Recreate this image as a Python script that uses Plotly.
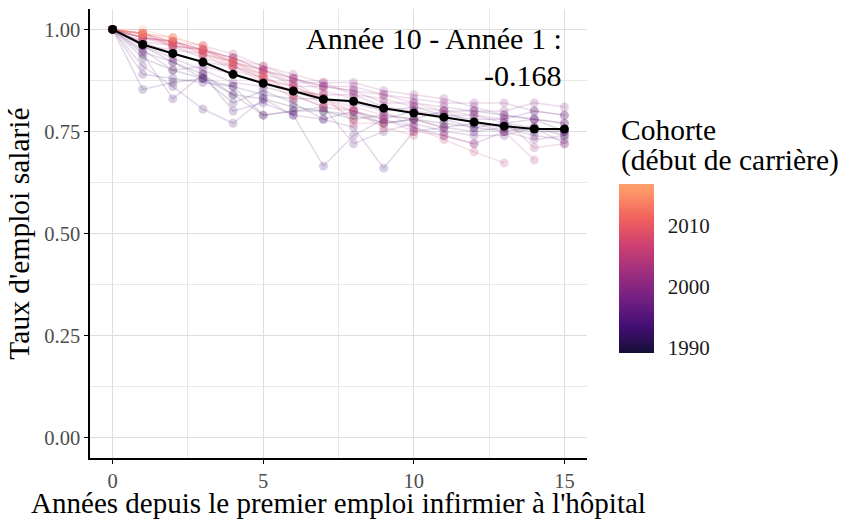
import plotly.graph_objects as go
from plotly.colors import sample_colorscale

# ---- data ----
years = list(range(16))
cohorts = list(range(1990, 2017))

r1990 = [1.00, 0.93, 0.90, 0.88, 0.86, 0.79, 0.80, 0.80, 0.79, 0.77, 0.78, 0.77, 0.76, 0.75, 0.76, 0.74]
r1991 = [1.00, 0.96, 0.92, 0.89, 0.84, 0.83, 0.81, 0.80, 0.78, 0.79, 0.78, 0.76, 0.77, 0.76, 0.75, 0.75]
r1992 = [1.00, 0.853, 0.87, 0.88, 0.82, 0.85, 0.82, 0.78, 0.80, 0.77, 0.78, 0.80, 0.80, 0.79, 0.78, 0.77]
r1993 = [1.00, 0.89, 0.88, 0.87, 0.86, 0.84, 0.83, 0.83, 0.82, 0.80, 0.81, 0.79, 0.78, 0.78, 0.80, 0.79]
r1994 = [1.00, 0.94, 0.83, 0.89, 0.80, 0.82, 0.79, 0.665, 0.74, 0.78, 0.80, 0.78, 0.76, 0.77, 0.78, 0.75]
r1995 = [1.00, 0.91, 0.86, 0.805, 0.77, 0.83, 0.79, 0.78, 0.76, 0.66, 0.75, 0.76, 0.75, 0.76, 0.74, 0.73]
r1996 = [1.00, 0.945, 0.92, 0.88, 0.84, 0.79, 0.80, 0.81, 0.72, 0.75, 0.77, 0.75, 0.74, 0.74, 0.76, 0.72]
r1997 = [1.00, 0.96, 0.93, 0.90, 0.87, 0.86, 0.84, 0.81, 0.80, 0.78, 0.76, 0.74, 0.72, 0.75, 0.73, 0.74]
r1998 = [1.00, 0.95, 0.90, 0.91, 0.89, 0.87, 0.85, 0.84, 0.84, 0.81, 0.80, 0.79, 0.79, 0.77, 0.76, 0.75]
r1999 = [1.00, 0.97, 0.94, 0.92, 0.91, 0.88, 0.86, 0.86, 0.85, 0.82, 0.82, 0.81, 0.80, 0.80, 0.82, 0.81]
r2000 = [1.00, 0.96, 0.95, 0.94, 0.92, 0.90, 0.88, 0.86, 0.86, 0.84, 0.83, 0.82, 0.82, 0.82, 0.80, 0.79]
r2001 = [1.00, 0.97, 0.96, 0.93, 0.91, 0.89, 0.87, 0.87, 0.87, 0.85, 0.84, 0.83, 0.81, 0.79, 0.78, 0.77]
r2002 = [1.00, 0.98, 0.96, 0.95, 0.93, 0.90, 0.88, 0.86, 0.85, 0.84, 0.82, 0.80, 0.79, 0.78, 0.71, 0.72]
r2003 = [1.00, 0.98, 0.97, 0.95, 0.93, 0.91, 0.89, 0.87, 0.84, 0.83, 0.81, 0.80, 0.77, 0.75, 0.68]
r2004 = [1.00, 0.99, 0.97, 0.96, 0.94, 0.91, 0.88, 0.85, 0.83, 0.80, 0.76, 0.73, 0.70, 0.673]
r2005 = [1.00, 0.98, 0.97, 0.95, 0.93, 0.90, 0.87, 0.83, 0.80, 0.78, 0.75, 0.74, 0.72]
r2006 = [1.00, 0.99, 0.96, 0.95, 0.92, 0.90, 0.86, 0.83, 0.81, 0.79, 0.78, 0.76]
r2007 = [1.00, 0.98, 0.97, 0.94, 0.92, 0.88, 0.85, 0.82, 0.80, 0.76, 0.74]
r2008 = [1.00, 0.99, 0.96, 0.95, 0.91, 0.87, 0.85, 0.84, 0.77, 0.77]
r2009 = [1.00, 0.98, 0.97, 0.94, 0.90, 0.88, 0.86, 0.83, 0.78]
r2010 = [1.00, 0.99, 0.97, 0.95, 0.92, 0.89, 0.84, 0.81]
r2011 = [1.00, 0.98, 0.96, 0.94, 0.91, 0.88, 0.83]
r2012 = [1.00, 0.99, 0.98, 0.96, 0.92, 0.89]
r2013 = [1.00, 0.99, 0.97, 0.95, 0.92]
r2014 = [1.00, 0.99, 0.98, 0.96]
r2015 = [1.00, 1.00, 0.98]
r2016 = [1.00, 0.99]

cohort_rates = [r1990, r1991, r1992, r1993, r1994, r1995, r1996, r1997, r1998,
                r1999, r2000, r2001, r2002, r2003, r2004, r2005, r2006, r2007,
                r2008, r2009, r2010, r2011, r2012, r2013, r2014, r2015, r2016]

mean_rate = [1.000, 0.963, 0.941, 0.920, 0.890, 0.868, 0.849, 0.829, 0.824,
             0.807, 0.795, 0.785, 0.773, 0.763, 0.756, 0.756]

colorbar_ticks = [1990, 2000, 2010]

# ---- styling ----
FONT = "'Liberation Serif', 'Times New Roman', serif"
CMIN, CMAX = 1989.2, 2016.9
magma_cs = [[0.0, "#140e36"], [0.159, "#440f76"], [0.319, "#721f81"],
            [0.476, "#9e2f7f"], [0.637, "#cd4071"], [0.796, "#f1605d"],
            [0.954, "#fd9668"], [1.0, "#fea06e"]]


def rgba(col, a):
    s = col.strip()
    if s.startswith("#"):
        r, g, b = int(s[1:3], 16), int(s[3:5], 16), int(s[5:7], 16)
    else:
        r, g, b = [int(float(v)) for v in s[s.index("(") + 1:s.index(")")].split(",")[:3]]
    return f"rgba({r},{g},{b},{a})"


fig = go.Figure()

for c, vals in zip(cohorts, cohort_rates):
    col = sample_colorscale(magma_cs, [(c - CMIN) / (CMAX - CMIN)])[0]
    fig.add_trace(go.Scatter(
        x=years[:len(vals)], y=vals, mode="lines+markers",
        line=dict(color=rgba(col, 0.16), width=1.5),
        marker=dict(color=rgba(col, 0.2), size=9, line=dict(width=0)),
        hoverinfo="skip", showlegend=False))

fig.add_trace(go.Scatter(
    x=years, y=mean_rate, mode="lines+markers",
    line=dict(color="black", width=2),
    marker=dict(color="black", size=9),
    showlegend=False))

# colorbar geometry (pixels)
CB_LEFT, CB_W, CB_TOP, CB_H = 619, 35, 184, 169
PLOT_L, PLOT_W, PLOT_T, PLOT_H = 90, 497, 9, 449

fig.add_trace(go.Scatter(
    x=[0], y=[1], mode="markers", showlegend=False, hoverinfo="skip",
    marker=dict(color=[cohorts[0]], opacity=0, size=1,
                colorscale=magma_cs, cmin=CMIN, cmax=CMAX, showscale=True,
                colorbar=dict(thickness=CB_W, thicknessmode="pixels",
                              len=CB_H, lenmode="pixels",
                              x=(CB_LEFT - PLOT_L) / PLOT_W, xanchor="left", xpad=0,
                              y=(PLOT_T + PLOT_H - CB_TOP - CB_H / 2) / PLOT_H,
                              yanchor="middle", ypad=0,
                              outlinewidth=0, tickvals=colorbar_ticks,
                              ticks="outside", ticklen=10, tickwidth=1,
                              tickcolor="rgba(0,0,0,0)",
                              tickfont=dict(family=FONT, size=21, color="#1a1a1a")))))

# white tick marks inside the colorbar, both sides (like ggplot)
for tv in colorbar_ticks:
    frac = (tv - CMIN) / (CMAX - CMIN)
    py = CB_TOP + CB_H * (1 - frac)
    yp = (PLOT_T + PLOT_H - py) / PLOT_H
    for x0p, x1p in [(CB_LEFT, CB_LEFT + 7), (CB_LEFT + CB_W - 7, CB_LEFT + CB_W)]:
        fig.add_shape(type="line", xref="paper", yref="paper",
                      x0=(x0p - PLOT_L) / PLOT_W, x1=(x1p - PLOT_L) / PLOT_W,
                      y0=yp, y1=yp, line=dict(color="rgba(255,255,255,0.75)", width=1.2))

diff = mean_rate[10] - mean_rate[1]

fig.add_annotation(x=15, y=0.978, xref="x", yref="y", xanchor="right", yanchor="middle",
                   text="Année 10 - Année 1 :", showarrow=False,
                   font=dict(family=FONT, size=30, color="black"))
fig.add_annotation(x=15, y=0.888, xref="x", yref="y", xanchor="right", yanchor="middle",
                   text=f"{diff:.3f}", showarrow=False,
                   font=dict(family=FONT, size=30, color="black"))

fig.add_annotation(x=(CB_LEFT - PLOT_L) / PLOT_W, y=(458 - 130) / 449, xref="paper", yref="paper",
                   xanchor="left", yanchor="middle", text="Cohorte", showarrow=False,
                   font=dict(family=FONT, size=29.5, color="black"))
fig.add_annotation(x=(CB_LEFT - PLOT_L) / PLOT_W, y=(458 - 160) / 449, xref="paper", yref="paper",
                   xanchor="left", yanchor="middle", text="(début de carrière)", showarrow=False,
                   font=dict(family=FONT, size=29.5, color="black"))

grid_major = "#dedede"
grid_minor = "#e8e8e8"

fig.update_layout(
    width=846, height=519,
    margin=dict(l=90, r=259, t=9, b=61, autoexpand=False),
    plot_bgcolor="white", paper_bgcolor="white",
    font=dict(family=FONT, size=18, color="black"),
    showlegend=False,
    xaxis=dict(range=[-0.75, 15.75], tickvals=[0, 5, 10, 15], automargin=False,
               ticks="outside", ticklen=4, tickwidth=1, tickcolor="black",
               showline=True, linecolor="black", linewidth=1.5,
               showgrid=True, gridcolor=grid_major, gridwidth=1, zeroline=False,
               minor=dict(tickvals=[2.5, 7.5, 12.5], showgrid=True,
                          gridcolor=grid_minor, gridwidth=1),
               tickfont=dict(family=FONT, size=20.5, color="#4d4d4d"),
               title=dict(text="Années depuis le premier emploi infirmier à l'hôpital",
                          font=dict(family=FONT, size=29, color="black"), standoff=6)),
    yaxis=dict(range=[-0.05, 1.05], tickvals=[0, 0.25, 0.5, 0.75, 1.0], automargin=False,
               ticktext=["0.00", "0.25", "0.50", "0.75", "1.00"],
               ticks="outside", ticklen=4, tickwidth=1, tickcolor="black",
               showline=True, linecolor="black", linewidth=1.5,
               showgrid=True, gridcolor=grid_major, gridwidth=1, zeroline=False,
               minor=dict(tickvals=[0.125, 0.375, 0.625, 0.875], showgrid=True,
                          gridcolor=grid_minor, gridwidth=1),
               tickfont=dict(family=FONT, size=20.5, color="#4d4d4d"),
               title=dict(text="Taux d'emploi salarié",
                          font=dict(family=FONT, size=29.5, color="black"), standoff=6)),
)

fig.write_html("out.html")
